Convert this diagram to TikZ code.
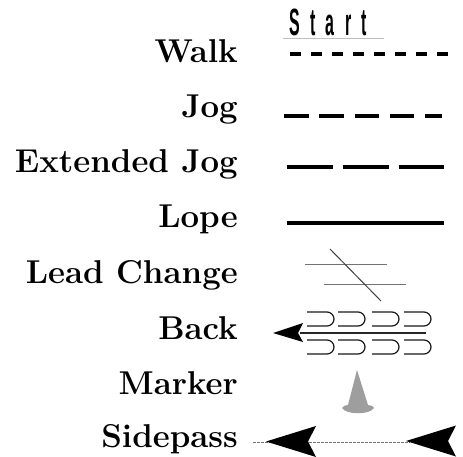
\documentclass[tikz,border=0pt]{standalone}
\usepackage{fontspec}
\newfontfamily\startfont[LetterSpace=65]{Liberation Sans}
\tikzset{
  lab/.style={anchor=base east,inner sep=0pt,font=\fontsize{33}{35}\selectfont\bfseries,text=black},
  thick dash/.style={line width=4pt,black},
  walk dash/.style={line width=4.6pt,black},
  thin gray/.style={line width=1pt,black!55},
  uturn/.style={line width=1.2pt,black!90},
}
\newcommand{\UT}[2]{\draw[uturn] (#1,#2) -- ++(20,0) arc[start angle=-90,end angle=90,radius=7] -- ++(-20,0);}
\newcommand{\BH}[2]{\fill[black] (#1,#2) -- ++(50,-15.5) -- ++(-8,15.5) -- ++(8,15.5) -- cycle;}
\begin{document}
\begin{tikzpicture}[x=1pt,y=-1pt]
\useasboundingbox (0,0) rectangle (463,457);
\node[lab] (walk) at (238,63) {Walk};
\node[lab] (jog) at (238,118) {Jog};
\node[lab] (ext) at (238,173) {Extended Jog};
\node[lab] (lope) at (238,228) {Lope};
\node[lab] (lead) at (238,283) {Lead Change};
\node[lab] (back) at (238,339) {Back};
\node[lab] (marker) at (238,394) {Marker};
\node[lab] (side) at (238,447) {Sidepass};
\node[inner sep=0pt,anchor=base west,xscale=0.42,font=\startfont\bfseries\fontsize{38}{38}\selectfont] (start) at (289,36) {Start};
\draw[black!25,line width=1pt] (283,39) -- (384,39);
\foreach \i in {0,...,7} \draw[walk dash] (290+21*\i,54) -- ++(11,0);
\foreach \a/\b in {284/309,319/344,355/379,390/414,425/442} \draw[thick dash] (\a,116) -- (\b,116);
\foreach \a/\b in {287/333,343/389,399/444} \draw[thick dash] (\a,167) -- (\b,167);
\draw[thick dash] (287,223) -- (444,223);
\draw[thin gray] (305,264) -- (387,264);
\draw[thin gray] (324,284) -- (406,284);
\draw[line width=1pt,black!75] (330,249) -- (381,301);
\foreach \x in {307,338,372,404} {\UT{\x}{312}\UT{\x}{340}}
\draw[line width=1.2pt,black!85] (300,333) -- (426,333);
\fill[black] (273,333) -- (303,323) -- (298,333) -- (303,342) -- cycle;
\fill[black!38] (357,370) -- (368,405) .. controls (371,405) and (373,406) .. (374,408) .. controls (370,415) and (346,415) .. (342,408) .. controls (343,406) and (345,405) .. (348,405) -- cycle;
\draw[black!55,dash pattern=on 3pt off 1pt,line width=1pt] (253,442) -- (410,442);
\BH{266}{441.5}
\BH{406}{441}
\end{tikzpicture}
\end{document}
